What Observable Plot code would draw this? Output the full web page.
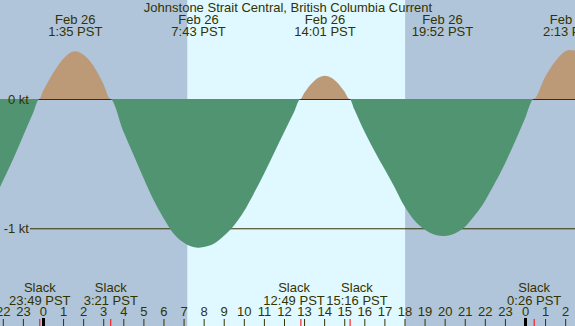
<!DOCTYPE html>
<html><head><meta charset="utf-8">
<script src="https://cdn.jsdelivr.net/npm/d3@7"></script>
<script src="https://cdn.jsdelivr.net/npm/@observablehq/plot@0.6"></script>
<style>html,body{margin:0;padding:0;background:#fff;overflow:hidden} svg{display:block}</style>
</head><body><div id="chart"></div>
<script>
const title = "Johnstone Strait Central, British Columbia Current";

// hours relative to midnight, Feb 26 (PST)
const sampleHours = [-2.14, -1.5, -1.0, -0.5, -0.183, 0, 0.5, 1.0, 1.583, 2.0, 2.5, 3.0, 3.35,
  4.0, 4.5, 5.0, 5.5, 6.0, 6.5, 7.0, 7.717, 8.0, 8.5, 9.0, 9.5, 10.0, 10.5, 11.0, 11.5, 12.0, 12.5, 12.817,
  13.0, 13.5, 14.017, 14.5, 15.0, 15.267, 15.5, 16.0, 16.5, 17.0, 17.5, 18.0, 18.5, 19.0, 19.867,
  20.5, 21.0, 21.5, 22.0, 22.5, 23.0, 23.5, 24.0, 24.433, 25.0, 25.5, 26.217, 26.5];
const sampleKnots = [-0.68, -0.47, -0.29, -0.11, 0, 0.06, 0.20, 0.31, 0.37, 0.345, 0.26, 0.12, 0,
  -0.25, -0.43, -0.61, -0.78, -0.92, -1.04, -1.11, -1.15, -1.145, -1.12, -1.06, -0.98, -0.87, -0.73, -0.58, -0.42, -0.26, -0.10, 0,
  0.045, 0.14, 0.18, 0.15, 0.06, 0, -0.08, -0.25, -0.40, -0.54, -0.68, -0.83, -0.94, -1.01, -1.06,
  -1.04, -0.99, -0.90, -0.79, -0.65, -0.50, -0.33, -0.15, 0, 0.17, 0.29, 0.38, 0.375];

const extremeHours = [1.583, 7.717, 14.017, 19.867, 26.217];
const extremeDates = ["Feb 26", "Feb 26", "Feb 26", "Feb 26", "Feb 27"];
const extremeTimes = ["1:35 PST", "7:43 PST", "14:01 PST", "19:52 PST", "2:13 PST"];

const slackHours = [-0.183, 3.35, 12.817, 15.267, 24.433];
const slackTimes = ["23:49 PST", "3:21 PST", "12:49 PST", "15:16 PST", "0:26 PST"];

const sunriseHour = 7.2;
const sunsetHour = 18.03;

const hourTicks = [-2, -1, 0, 1, 2, 3, 4, 5, 6, 7, 8, 9, 10, 11, 12, 13, 14, 15, 16, 17, 18, 19, 20, 21, 22, 23, 24, 25, 26];
const hourLabels = ["22", "23", "0", "1", "2", "3", "4", "5", "6", "7", "8", "9", "10", "11", "12", "13", "14", "15", "16", "17", "18", "19", "20", "21", "22", "23", "0", "1", "2"];
const midnightHours = [0, 24];

const levels = [0, -1];
const levelLabels = ["0 kt", "-1 kt"];

const xDomain = [-2.14, 26.49];
const yDomain = [-1.756, 0.766];

const nightColor = "#B0C4DA";
const dayColor = "#E0F8FF";
const floodColor = "#BC9A78";
const ebbColor = "#519472";
const inkColor = "#333300";

const W = 575, H = 326;
const fontFamily = "Liberation Sans, Arial, sans-serif";
const font = {fontFamily, fontSize: 13, fill: inkColor};

const periods = [
  {a: xDomain[0], b: sunriseHour, fill: nightColor},
  {a: sunriseHour, b: sunsetHour, fill: dayColor},
  {a: sunsetHour, b: xDomain[1], fill: nightColor}
];
const series = sampleHours.map((t, i) => ({t, v: sampleKnots[i]}));

// push apart slack labels that would overlap (as the original chart does)
const ctx = document.createElement("canvas").getContext("2d");
ctx.font = `13px ${fontFamily}`;
const px = d3.scaleLinear(xDomain, [0, W]);
const slackItems = slackHours.map((t, i) => ({t, label: slackTimes[i], cx: px(t), w: ctx.measureText(slackTimes[i]).width, dx: 0}));
for (let i = 0; i < slackItems.length - 1; ++i) {
  const a = slackItems[i], b = slackItems[i + 1];
  const overlap = (a.cx + a.dx + a.w / 2 + 1.5) - (b.cx + b.dx - b.w / 2);
  if (overlap > 0) { a.dx -= overlap / 2; b.dx += overlap / 2; }
}

const chart = Plot.plot({
  width: W,
  height: H,
  margin: 0,
  x: {domain: xDomain, range: [0, W], axis: null},
  y: {domain: yDomain, range: [H, 0], axis: null},
  color: {type: "identity"},
  style: {background: "white", overflow: "hidden"},
  marks: [
    Plot.rect(periods, {x1: "a", x2: "b", fill: "fill"}),
    Plot.ruleY(levels, {y: d => d, stroke: inkColor, strokeWidth: 1, insetLeft: 30}),
    Plot.areaY(series, {x: "t", y1: 0, y2: d => Math.max(0, d.v), fill: floodColor, curve: "monotone-x"}),
    Plot.areaY(series, {x: "t", y1: 0, y2: d => Math.min(0, d.v), fill: ebbColor, curve: "monotone-x"}),
    Plot.text(levels, {y: d => d, text: (d, i) => levelLabels[i], frameAnchor: "left", dx: 28.5, textAnchor: "end", lineAnchor: "middle", ...font}),
    Plot.text([title], {text: d => d, frameAnchor: "top", lineAnchor: "top", dy: 1.8, ...font}),
    Plot.text(extremeHours, {x: d => d, text: (d, i) => extremeDates[i] + "\n" + extremeTimes[i], frameAnchor: "top", lineAnchor: "top", lineHeight: 0.96, dy: 14.6, ...font}),
    ...slackItems.map(s => Plot.text([s], {x: "t", text: d => "Slack\n" + d.label, frameAnchor: "bottom", lineAnchor: "bottom", lineHeight: 0.96, dx: s.dx, dy: -21.7, ...font})),
    Plot.text(hourTicks, {x: d => d, text: (d, i) => hourLabels[i], frameAnchor: "bottom", lineAnchor: "bottom", dy: -10.3, ...font}),
    Plot.ruleX(hourTicks, {x: d => d, stroke: inkColor, strokeWidth: 1, insetTop: 319}),
    Plot.ruleX(midnightHours, {x: d => d, stroke: "#000", strokeWidth: 3, insetTop: 318}),
    Plot.ruleX(slackHours, {x: d => d, stroke: "red", strokeWidth: 1, insetTop: 319})
  ]
});
document.getElementById("chart").appendChild(chart);
</script>
</body></html>
